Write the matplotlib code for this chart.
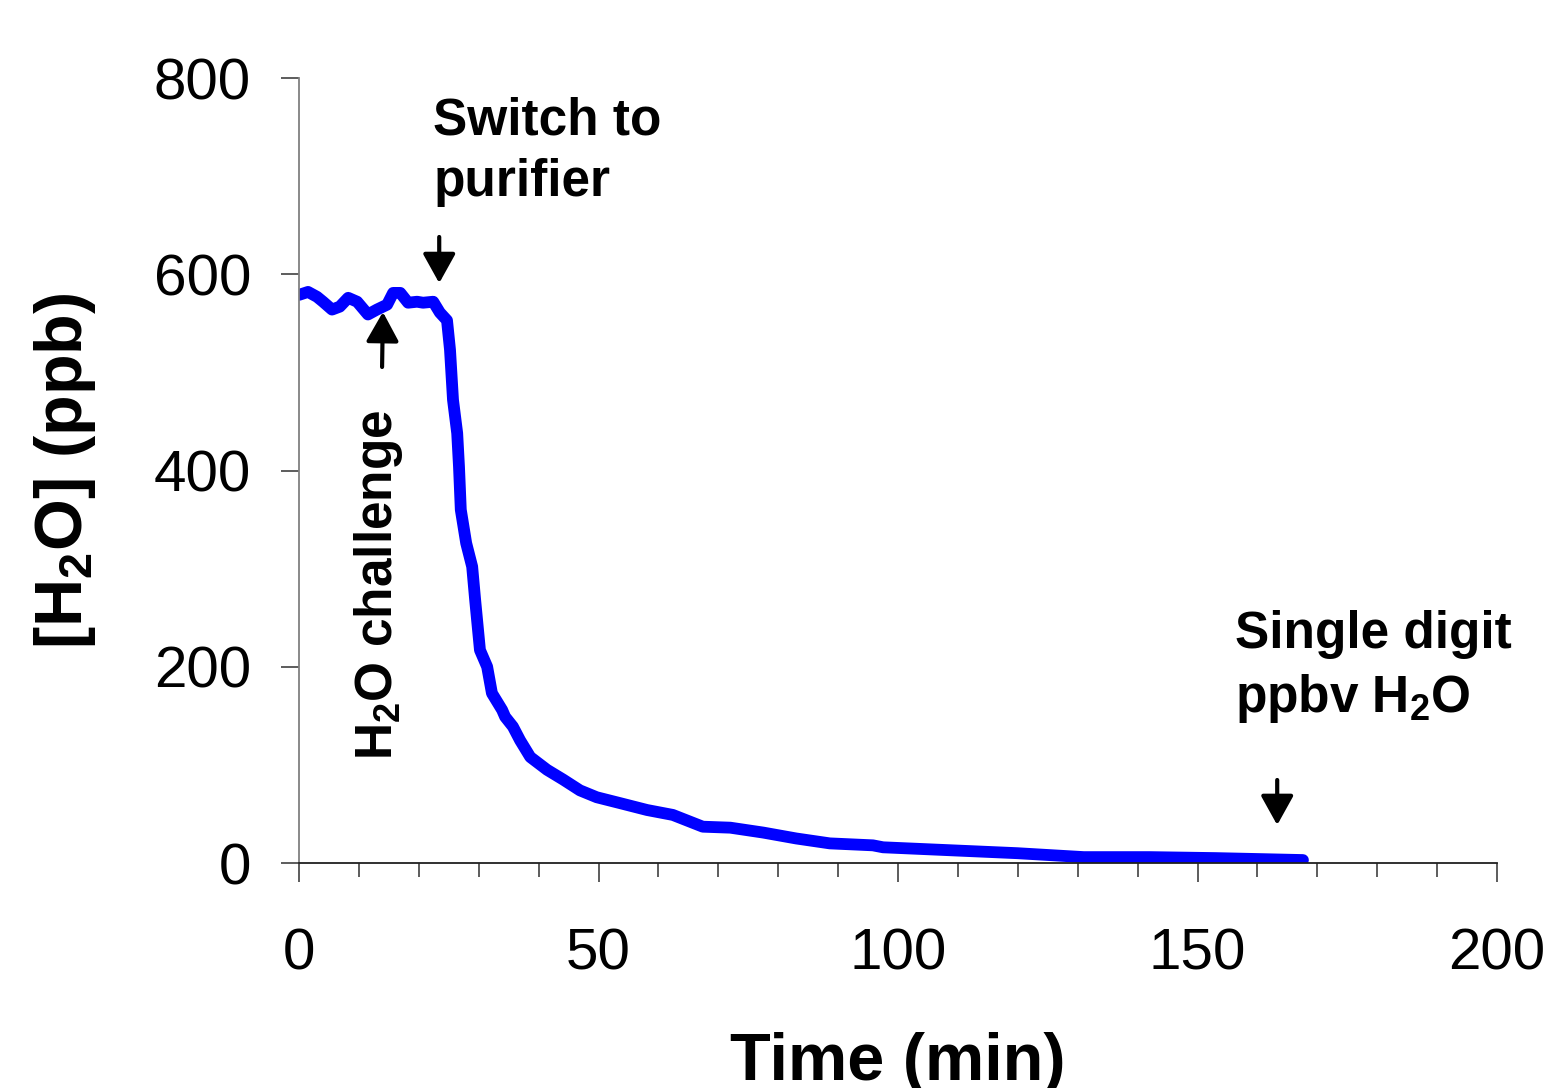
import numpy as np
import matplotlib
matplotlib.use("Agg")
import matplotlib.pyplot as plt
from matplotlib.ticker import MultipleLocator

plt.rcParams['font.family'] = ['Liberation Sans', 'DejaVu Sans']
plt.rcParams['mathtext.fontset'] = 'custom'
plt.rcParams['mathtext.rm'] = 'Liberation Sans'
plt.rcParams['mathtext.bf'] = 'Liberation Sans:bold'
plt.rcParams['mathtext.default'] = 'regular'

# time (min) and water level (ppb)
time_min = [0.0, 1.5, 3.0, 4.0, 5.5, 6.8, 8.2, 9.7, 11.5, 13.0, 14.7, 15.7,
            16.9, 18.2, 19.7, 20.7, 22.4, 23.5, 24.7, 25.2, 25.7, 26.4, 26.7,
            27.0, 27.9, 28.9, 29.4, 30.2, 31.4, 32.2, 33.9, 34.4, 35.7, 36.9,
            38.6, 41.4, 44.1, 46.9, 49.7, 53.6, 58.1, 62.4, 67.4, 72.0, 77.5,
            83.0, 88.6, 95.8, 97.5, 108.7, 119.9, 131.0, 142.0, 153.0, 167.6]
h2o_ppb = [579, 582, 577, 572, 564, 567, 576, 572, 559, 564, 569, 581,
           581, 571, 572, 571, 572, 561, 553, 523, 472, 438, 404,
           360, 326, 302, 268, 217, 200, 173, 156, 149, 139, 125,
           108, 95, 85, 74, 67, 61, 54, 49, 37, 36, 31,
           25, 20, 18, 16, 13, 10, 6, 6, 5, 3]

xticks = [0, 50, 100, 150, 200]
yticks = [0, 200, 400, 600, 800]

fig = plt.figure(figsize=(15.56, 10.88), dpi=100)
ax = fig.add_axes([0.1922, 0.2068, 0.7699, 0.7215])

ax.plot(time_min, h2o_ppb, color='#0000ff', lw=8.5, solid_joinstyle='round',
        solid_capstyle='round')

ax.set_xlim(0, 200)
ax.set_ylim(0, 800)
ax.set_xticks(xticks)
ax.set_yticks(yticks)
ax.xaxis.set_minor_locator(MultipleLocator(10))

for s in ['top', 'right']:
    ax.spines[s].set_visible(False)
ax.spines['left'].set_color('#808080')
ax.spines['bottom'].set_color('#202020')
ax.spines['left'].set_linewidth(1.3)
ax.spines['bottom'].set_linewidth(1.3)

ax.tick_params(axis='x', which='major', direction='out', length=13.7, width=1.1,
               color='#303030', pad=33, labelsize=42)
ax.tick_params(axis='x', which='minor', direction='out', length=10, width=1.1,
               color='#303030')
ax.tick_params(axis='y', which='major', direction='out', length=13, width=1.1,
               color='#303030', pad=21.6, labelsize=42)

ax.set_xlabel('Time (min)', fontsize=48, fontweight='bold', va='baseline')
ax.xaxis.set_label_coords(0.4996, -0.2764)
ax.set_ylabel('[H$_2$O] (ppb)', fontsize=48, fontweight='bold', va='center')
ax.yaxis.set_label_coords(-0.1953, 0.5)

astyle = dict(arrowstyle='-|>,head_length=0.9,head_width=0.5', mutation_scale=20,
              color='black', lw=3, shrinkA=0, shrinkB=0)

ax.annotate('', xy=(23.4, 591), xytext=(23.4, 638), arrowprops=astyle)
ax.annotate('', xy=(14.0, 561.5), xytext=(13.86, 505.5), arrowprops=astyle)
ax.annotate('', xy=(163.3, 38.7), xytext=(163.3, 84.6), arrowprops=astyle)

tk = dict(fontsize=37, fontweight='bold', ha='left', va='baseline')
ax.text(22.4, 742, 'Switch to', **tk)
ax.text(22.4, 680, 'purifier', **tk)
ax.text(156.3, 219, 'Single digit', **tk)
ax.text(156.3, 154, 'ppbv H$_2$O', **tk)
ax.text(13.2, 105, 'H$_2$O challenge', fontsize=37, fontweight='bold',
        rotation=90, ha='center', va='bottom')

fig.savefig('out.png', dpi=100)
